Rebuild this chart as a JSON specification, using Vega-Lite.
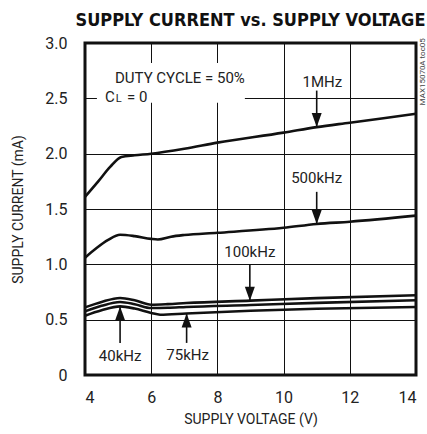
{
  "$schema": "https://vega.github.io/schema/vega-lite/v6.json",
  "width": 331,
  "height": 332,
  "autosize": {"type": "none"},
  "padding": {"left": 85, "top": 43, "right": 11, "bottom": 59},
  "background": "white",
  "title": {
    "text": "SUPPLY CURRENT vs. SUPPLY VOLTAGE",
    "font": "DejaVu Sans Condensed, Roboto",
    "fontWeight": "bold",
    "fontSize": 18,
    "color": "#111",
    "anchor": "middle",
    "frame": "group",
    "offset": 5
  },
  "config": {
    "font": "Roboto",
    "view": {"stroke": "#111", "strokeWidth": 3},
    "axis": {
      "domain": false,
      "ticks": false,
      "grid": true,
      "gridColor": "#111",
      "gridWidth": 1,
      "gridOpacity": 1,
      "labelFont": "Roboto",
      "labelFontSize": 16,
      "labelColor": "#222",
      "titleFont": "Roboto",
      "titleFontSize": 14,
      "titleFontWeight": "normal",
      "titleColor": "#222"
    }
  },
  "datasets": {
    "curves": [
      {"series": "1MHz", "v": 4, "i": 1.61},
      {"series": "1MHz", "v": 4.4, "i": 1.75},
      {"series": "1MHz", "v": 4.76, "i": 1.88},
      {"series": "1MHz", "v": 5.1, "i": 1.97},
      {"series": "1MHz", "v": 5.5, "i": 1.985},
      {"series": "1MHz", "v": 6, "i": 2.0},
      {"series": "1MHz", "v": 7, "i": 2.045},
      {"series": "1MHz", "v": 8, "i": 2.1},
      {"series": "1MHz", "v": 10, "i": 2.19},
      {"series": "1MHz", "v": 11, "i": 2.24},
      {"series": "1MHz", "v": 12, "i": 2.28},
      {"series": "1MHz", "v": 14, "i": 2.36},
      {"series": "500kHz", "v": 4, "i": 1.06},
      {"series": "500kHz", "v": 4.35, "i": 1.147},
      {"series": "500kHz", "v": 4.7, "i": 1.22},
      {"series": "500kHz", "v": 5.06, "i": 1.267},
      {"series": "500kHz", "v": 5.5, "i": 1.255},
      {"series": "500kHz", "v": 6, "i": 1.23},
      {"series": "500kHz", "v": 6.2, "i": 1.225},
      {"series": "500kHz", "v": 6.6, "i": 1.25},
      {"series": "500kHz", "v": 7, "i": 1.265},
      {"series": "500kHz", "v": 8, "i": 1.285},
      {"series": "500kHz", "v": 10, "i": 1.33},
      {"series": "500kHz", "v": 11, "i": 1.365},
      {"series": "500kHz", "v": 12, "i": 1.385},
      {"series": "500kHz", "v": 14, "i": 1.44},
      {"series": "100kHz", "v": 4, "i": 0.611},
      {"series": "100kHz", "v": 4.5, "i": 0.66},
      {"series": "100kHz", "v": 5.06, "i": 0.696},
      {"series": "100kHz", "v": 5.5, "i": 0.675},
      {"series": "100kHz", "v": 6, "i": 0.635},
      {"series": "100kHz", "v": 6.5, "i": 0.64},
      {"series": "100kHz", "v": 7.06, "i": 0.65},
      {"series": "100kHz", "v": 9, "i": 0.672},
      {"series": "100kHz", "v": 11, "i": 0.695},
      {"series": "100kHz", "v": 14, "i": 0.72},
      {"series": "75kHz", "v": 4, "i": 0.575},
      {"series": "75kHz", "v": 4.5, "i": 0.625},
      {"series": "75kHz", "v": 5.06, "i": 0.66},
      {"series": "75kHz", "v": 5.5, "i": 0.64},
      {"series": "75kHz", "v": 6, "i": 0.605},
      {"series": "75kHz", "v": 6.5, "i": 0.607},
      {"series": "75kHz", "v": 7.06, "i": 0.615},
      {"series": "75kHz", "v": 9, "i": 0.632},
      {"series": "75kHz", "v": 11, "i": 0.652},
      {"series": "75kHz", "v": 14, "i": 0.675},
      {"series": "40kHz", "v": 4, "i": 0.536},
      {"series": "40kHz", "v": 4.5, "i": 0.585},
      {"series": "40kHz", "v": 5.06, "i": 0.62},
      {"series": "40kHz", "v": 5.5, "i": 0.6},
      {"series": "40kHz", "v": 6, "i": 0.56},
      {"series": "40kHz", "v": 6.27, "i": 0.545},
      {"series": "40kHz", "v": 7.06, "i": 0.556},
      {"series": "40kHz", "v": 9, "i": 0.58},
      {"series": "40kHz", "v": 11, "i": 0.598},
      {"series": "40kHz", "v": 14, "i": 0.615}
    ],
    "arrows": [
      {"label": "1MHz", "v": 11, "from": 2.57, "tip": 2.24, "dir": "down"},
      {"label": "500kHz", "v": 11, "from": 1.655, "tip": 1.365, "dir": "down"},
      {"label": "100kHz", "v": 8.98, "from": 1.0, "tip": 0.672, "dir": "down"},
      {"label": "40kHz", "v": 5.06, "from": 0.29, "tip": 0.62, "dir": "up"},
      {"label": "75kHz", "v": 7.07, "from": 0.29, "tip": 0.556, "dir": "up"}
    ],
    "labels": [
      {"text": "1MHz", "v": 11.17, "i": 2.65},
      {"text": "500kHz", "v": 11.0, "i": 1.78},
      {"text": "100kHz", "v": 8.98, "i": 1.113},
      {"text": "40kHz", "v": 5.06, "i": 0.175},
      {"text": "75kHz", "v": 7.1, "i": 0.185}
    ],
    "notes": [
      {"text": "DUTY CYCLE = 50%", "v": 4.906, "i": 2.68},
      {"text": "C", "v": 4.604, "i": 2.51},
      {"text": "= 0", "v": 5.27, "i": 2.51}
    ],
    "box": [
      {"v": 4.36, "v2": 8.83, "i": 2.46, "i2": 2.82}
    ]
  },
  "layer": [
    {
      "data": {"name": "box"},
      "mark": {"type": "rect", "fill": "white", "stroke": null},
      "encoding": {
        "x": {"field": "v", "type": "quantitative", "scale": {"domain": [4, 14], "nice": false, "zero": false},
              "axis": {"values": [4, 6, 8, 10, 12, 14], "title": "SUPPLY VOLTAGE (V)", "labelPadding": 14, "titlePadding": 7}},
        "x2": {"field": "v2"},
        "y": {"field": "i", "type": "quantitative", "scale": {"domain": [0, 3], "nice": false},
              "axis": {"values": [0, 0.5, 1, 1.5, 2, 2.5, 3], "title": "SUPPLY CURRENT (mA)", "labelPadding": 18, "titlePadding": 19,
                       "labelExpr": "datum.value == 0 ? '0' : format(datum.value, '.1f')"}},
        "y2": {"field": "i2"}
      }
    },
    {
      "data": {"name": "curves"},
      "mark": {"type": "line", "color": "#111", "strokeWidth": 2.6, "interpolate": "monotone"},
      "encoding": {
        "x": {"field": "v", "type": "quantitative"},
        "y": {"field": "i", "type": "quantitative"},
        "detail": {"field": "series"}
      }
    },
    {
      "data": {"name": "arrows"},
      "mark": {"type": "rule", "color": "#111", "strokeWidth": 1.6},
      "encoding": {
        "x": {"field": "v", "type": "quantitative"},
        "y": {"field": "from", "type": "quantitative"},
        "y2": {"field": "tip"}
      }
    },
    {
      "data": {"name": "arrows"},
      "transform": [{"filter": "datum.dir == 'down'"}],
      "mark": {"type": "point", "shape": "M 0 0 L -1 -2.8 L 1 -2.8 Z", "size": 100, "filled": true, "color": "#111", "opacity": 1},
      "encoding": {
        "x": {"field": "v", "type": "quantitative"},
        "y": {"field": "tip", "type": "quantitative"}
      }
    },
    {
      "data": {"name": "arrows"},
      "transform": [{"filter": "datum.dir == 'up'"}],
      "mark": {"type": "point", "shape": "M 0 0 L -1 2.8 L 1 2.8 Z", "size": 100, "filled": true, "color": "#111", "opacity": 1},
      "encoding": {
        "x": {"field": "v", "type": "quantitative"},
        "y": {"field": "tip", "type": "quantitative"}
      }
    },
    {
      "data": {"name": "labels"},
      "mark": {"type": "text", "fontSize": 15, "color": "#222", "align": "center", "baseline": "middle"},
      "encoding": {
        "x": {"field": "v", "type": "quantitative"},
        "y": {"field": "i", "type": "quantitative"},
        "text": {"field": "text"}
      }
    },
    {
      "data": {"name": "notes"},
      "mark": {"type": "text", "fontSize": 15, "color": "#222", "align": "left", "baseline": "middle"},
      "encoding": {
        "x": {"field": "v", "type": "quantitative"},
        "y": {"field": "i", "type": "quantitative"},
        "text": {"field": "text"}
      }
    },
    {
      "data": {"values": [{"text": "L", "v": 4.93, "i": 2.49}]},
      "mark": {"type": "text", "fontSize": 11, "color": "#222", "align": "left", "baseline": "middle"},
      "encoding": {
        "x": {"field": "v", "type": "quantitative"},
        "y": {"field": "i", "type": "quantitative"},
        "text": {"field": "text"}
      }
    },
    {
      "data": {"values": [{"text": "MAX15070A toc05", "v": 14.21, "i": 2.74}]},
      "mark": {"type": "text", "fontSize": 8, "color": "#444", "align": "center", "baseline": "middle", "angle": 270, "clip": false},
      "encoding": {
        "x": {"field": "v", "type": "quantitative"},
        "y": {"field": "i", "type": "quantitative"},
        "text": {"field": "text"}
      }
    }
  ]
}
